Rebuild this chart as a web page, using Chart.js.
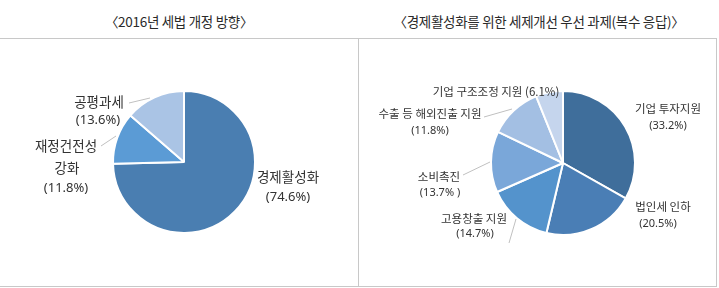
<!DOCTYPE html>
<html>
<head>
<meta charset="utf-8">
<script src="https://cdn.jsdelivr.net/npm/chart.js@4"></script>
<style>
  body { margin: 0; width: 719px; height: 288px; background: #fff; position: relative; overflow: hidden;
         font-family: "Noto Sans CJK KR", "Noto Sans", sans-serif; }
  .title { position: absolute; top: 10px; height: 22px; line-height: 22px; text-align: center;
           font-size: 13.5px; color: #2a2a2a; letter-spacing: -0.3px; }
  #frame { position: absolute; left: 0; top: 38px; width: 717px; height: 249px;
           border-top: 1px solid #c8c8c8; border-bottom: 1px solid #c8c8c8; border-right: 1px solid #c8c8c8;
           box-sizing: border-box; }
  #divider { position: absolute; left: 358px; top: 38px; width: 1px; height: 249px; background: #c8c8c8; }
  .box { position: absolute; top: 38px; height: 248px; }
  canvas { display: block; }
</style>
</head>
<body>
<div class="title" style="left:0;width:358px;">〈2016년 세법 개정 방향〉</div>
<div class="title" style="left:360px;width:358px;">〈경제활성화를 위한 세제개선 우선 과제(복수 응답)〉</div>
<div id="frame"></div>
<div id="divider"></div>
<div class="box" style="left:0;width:358px;"><canvas id="c1" width="358" height="248"></canvas></div>
<div class="box" style="left:360px;width:356px;"><canvas id="c2" width="356" height="248"></canvas></div>
<script>
// 2016 tax reform direction
const leftLabels = [['경제활성화'], ['재정건전성', '강화'], ['공평과세']];
const leftValues = [74.6, 11.8, 13.6];
const leftPct = ['(74.6%)', '(11.8%)', '(13.6%)'];

// priority tasks (multiple answers)
const rightLabels = [['기업 투자지원'], ['법인세 인하'], ['고용창출 지원'], ['소비촉진'], ['수출 등 해외진출 지원'], ['기업 구조조정 지원']];
const rightValues = [33.2, 20.5, 14.7, 13.7, 11.8, 6.1];
const rightPct = ['(33.2%)', '(20.5%)', '(14.7%)', '(13.7% )', '(11.8%)', '(6.1%)'];

const leftColors = ['#4a7eb1', '#5b9bd5', '#aac4e5'];
const rightColors = ['#3f6e9b', '#4a7eb5', '#5493cc', '#7aa7d9', '#a3bfe3', '#c5d5ed'];

// label layout, offsets from pie centre: text lines [dx, dy], leader line
const leftLayout = [
  { lines: [[104, 15]], pct: [104, 35] },
  { lines: [[-118, -16], [-117, 6]], pct: [-118, 26], leader: [[-83, -16], [-68, -26]] },
  { lines: [[-85, -60]], pct: [-86, -42], leader: [[-55, -59], [-34, -64]] }
];
const rightLayout = [
  { lines: [[105, -54]], pct: [105, -37] },
  { lines: [[100, 44]], pct: [95, 61] },
  { lines: [[-89, 56]], pct: [-88, 71], leader: [[-47, 56], [-54, 80]] },
  { lines: [[-124, 14]], pct: [-123, 30], leader: [[-100, 12], [-73, -1]] },
  { lines: [[-133, -49]], pct: [-133, -32], leader: [[-79, -46], [-51, -54]] },
  { inline: true, lines: [[-67, -71]] }
];

function labelPlugin(labels, pcts, layout, size) {
  return {
    id: 'pieLabels',
    afterDraw(chart) {
      const ctx = chart.ctx;
      const arc = chart.getDatasetMeta(0).data[0];
      const cx = arc.x, cy = arc.y;
      ctx.save();
      ctx.textAlign = 'center';
      ctx.textBaseline = 'middle';
      ctx.fillStyle = '#333';
      layout.forEach((l, i) => {
        if (l.leader) {
          ctx.strokeStyle = '#c0c0c0';
          ctx.lineWidth = 1;
          ctx.beginPath();
          ctx.moveTo(cx + l.leader[0][0], cy + l.leader[0][1]);
          ctx.lineTo(cx + l.leader[1][0], cy + l.leader[1][1]);
          ctx.stroke();
        }
        ctx.font = size + 'px "Noto Sans CJK KR", sans-serif';
        if (l.inline) {
          ctx.fillText(labels[i][0] + ' ' + pcts[i], cx + l.lines[0][0], cy + l.lines[0][1]);
          return;
        }
        labels[i].forEach((t, j) => ctx.fillText(t, cx + l.lines[j][0], cy + l.lines[j][1]));
        ctx.font = (size - 0.5) + 'px "Noto Sans", sans-serif';
        ctx.fillText(pcts[i], cx + l.pct[0], cy + l.pct[1]);
      });
      ctx.restore();
    }
  };
}

new Chart(document.getElementById('c1'), {
  type: 'pie',
  data: {
    labels: leftLabels.map(l => l.join('')),
    datasets: [{ data: leftValues, backgroundColor: leftColors, borderColor: '#fff', borderWidth: 2 }]
  },
  options: {
    responsive: false,
    animation: false,
    radius: 71,
    layout: { padding: { left: 112, right: 102, top: 52, bottom: 52 } },
    plugins: { legend: { display: false }, tooltip: { enabled: false } }
  },
  plugins: [labelPlugin(leftLabels, leftPct, leftLayout, 13.5)]
});

new Chart(document.getElementById('c2'), {
  type: 'pie',
  data: {
    labels: rightLabels.map(l => l.join('')),
    datasets: [{ data: rightValues, backgroundColor: rightColors, borderColor: '#fff', borderWidth: 2 }]
  },
  options: {
    responsive: false,
    animation: false,
    radius: 72,
    layout: { padding: { left: 130, right: 80, top: 52, bottom: 50 } },
    plugins: { legend: { display: false }, tooltip: { enabled: false } }
  },
  plugins: [labelPlugin(rightLabels, rightPct, rightLayout, 11.5)]
});
</script>
</body>
</html>
